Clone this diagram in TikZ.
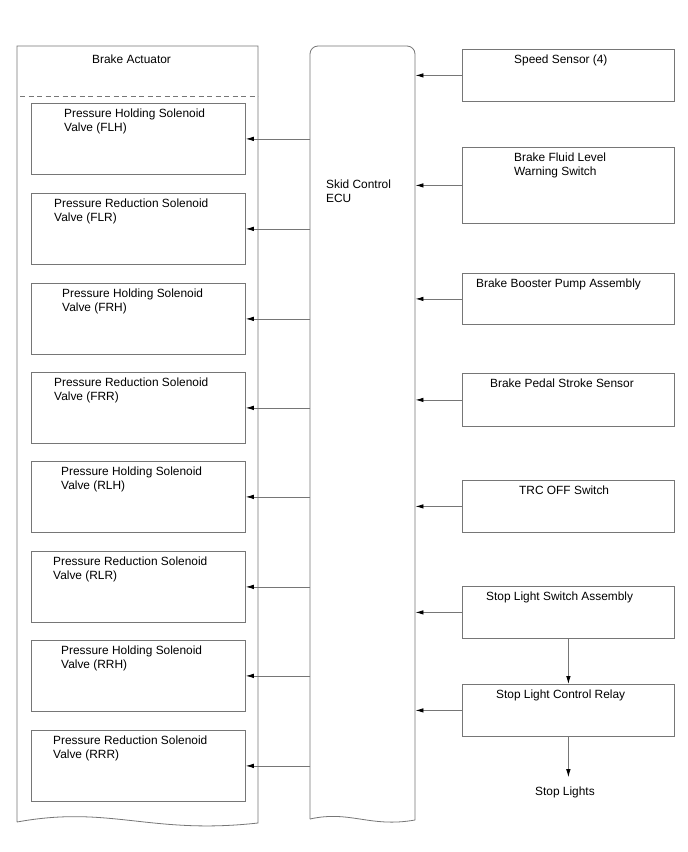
\documentclass[tikz,border=0pt]{standalone}
\usepackage{fontspec}
\setmainfont{Liberation Sans}
\usetikzlibrary{arrows.meta}
\definecolor{ln}{RGB}{118,118,118}
\begin{document}
\begin{tikzpicture}[x=1pt,y=-1pt,
  box/.style={draw=ln,line width=0.8pt,rectangle,inner sep=0pt,anchor=north west},
  frame/.style={rectangle,inner sep=0pt,anchor=north west},
  txt/.style={anchor=base west,inner sep=0pt,font=\fontsize{11.9}{14}\selectfont,align=left},
  arr/.style={draw=ln,line width=0.8pt,-{Latex[length=8pt,width=4.5pt,color=black]}},
  outline/.style={draw=ln,line width=0.8pt}]
\useasboundingbox (0,0) rectangle (688,852);
\fill[white] (0,0) rectangle (688,852);

% Brake actuator frame
\node[frame,minimum width=241pt,minimum height=776pt] (act) at (17,46) {};
\draw[outline] (17,822) -- (17,46) -- (258,46) -- (258,823)
  .. controls (150,835) and (110,805) .. (17,822);
\draw[ln,line width=0.8pt,dash pattern=on 5pt off 3.5pt] (20,96) -- (258,96);
\node[txt] (acttxt) at (92,63) {Brake Actuator};

% ECU
\node[frame,minimum width=105pt,minimum height=774pt] (ecu) at (310,46) {};
\draw[outline,rounded corners=8pt] (310,819) -- (310,46) -- (415,46) -- (415,820);
\draw[outline] (415,820) .. controls (370,828) and (350,810) .. (310,819);
\node[txt] (ecutxt) at (326,202) {Skid Control\\ECU};

% Valves (base anchor = baseline of the last line)
\foreach \n/\t/\x/\lab in {
  1/103/64/{Pressure Holding Solenoid\\Valve (FLH)},
  2/193/54/{Pressure Reduction Solenoid\\Valve (FLR)},
  3/283/62/{Pressure Holding Solenoid\\Valve (FRH)},
  4/372/54/{Pressure Reduction Solenoid\\Valve (FRR)},
  5/461/61/{Pressure Holding Solenoid\\Valve (RLH)},
  6/551/53/{Pressure Reduction Solenoid\\Valve (RLR)},
  7/640/61/{Pressure Holding Solenoid\\Valve (RRH)},
  8/730/53/{Pressure Reduction Solenoid\\Valve (RRR)}}{
  \node[box,minimum width=214pt,minimum height=71pt] (v\n) at (31,\t) {};
  \node[txt] (vt\n) at (\x,\t+28.5) {\lab};
  \draw[arr] (ecu.west |- v\n.east) -- (v\n.east);
}

% Inputs
\foreach \n/\t/\h/\x/\b/\lab in {
  1/49/52/514/14/{Speed Sensor (4)},
  2/147/76/514/28.5/{Brake Fluid Level\\Warning Switch},
  3/273/51/476/14/{Brake Booster Pump Assembly},
  4/373/53/490/14/{Brake Pedal Stroke Sensor},
  5/480/52/519/14/{TRC OFF Switch},
  6/586/52/486/14/{Stop Light Switch Assembly},
  7/684/52/496/14/{Stop Light Control Relay}}{
  \node[box,minimum width=212pt,minimum height=\h pt] (s\n) at (462,\t) {};
  \node[txt] (st\n) at (\x,\t+\b) {\lab};
  \draw[arr] (s\n.west) -- (ecu.east |- s\n.west);
}

\node[txt] (lights) at (535,795) {Stop Lights};
\draw[arr] (s6.south) -- (s7.north);
\draw[arr,shorten >=9pt] (s7.south) -- (s7.south |- lights.north);
\end{tikzpicture}
\end{document}
